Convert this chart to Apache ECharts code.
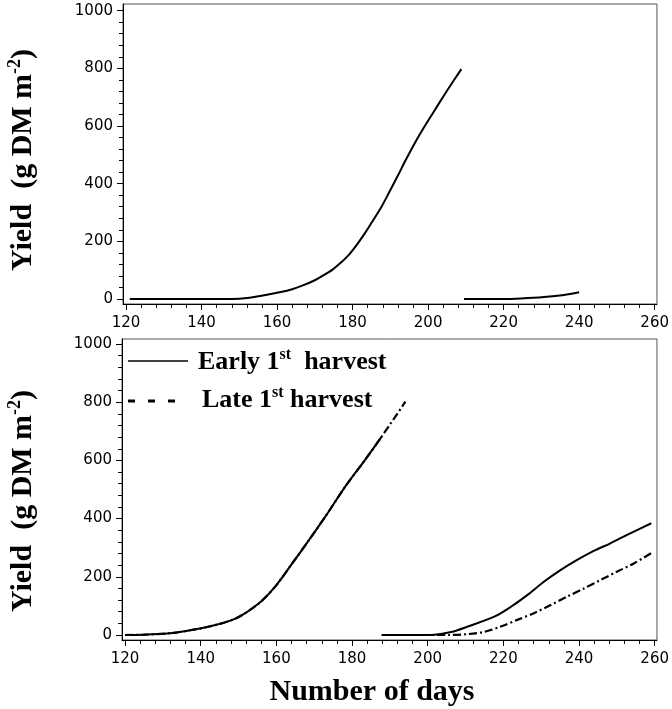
<!DOCTYPE html>
<html>
<head>
<meta charset="utf-8">
<script src="https://cdn.jsdelivr.net/npm/echarts@6/dist/echarts.min.js"></script>
<style>html,body{margin:0;padding:0;background:#fff;}#c{width:672px;height:709px;}</style>
</head>
<body>
<div id="c"></div>
<script>
// ---- tick labels ----
const xTicks = [120, 140, 160, 180, 200, 220, 240, 260];
const yTicks = [0, 200, 400, 600, 800, 1000];

// ---- top panel ----
const topDays1  = [121, 130, 140, 148, 152, 157, 161, 164, 167, 170, 172, 174.6, 177, 179, 181, 183, 185, 187.7, 190, 192, 194, 196.5, 199, 201, 203, 205, 207, 208.8];
const topYield1 = [0, 0, 0, 0, 3, 14, 24, 34, 48, 65, 80, 101, 127, 153, 186, 223, 264, 321, 378, 428, 480, 541, 597, 639, 681, 722, 762, 797];
const topDays2  = [209.5, 215, 220, 224.6, 230.7, 236, 240];
const topYield2 = [0, 0, 0, 2, 7, 14, 23];

// ---- bottom panel: Early 1st harvest ----
const earlyDays1  = [120, 125, 131.8, 136.2, 142.3, 149.3, 155.4, 159.8, 164.2, 168.6, 172.9, 178.2, 183.4, 187.8];
const earlyYield1 = [0, 1, 6, 14, 29, 57, 109, 168, 246, 326, 406, 510, 601, 681];
const earlyDays2  = [187.8, 195, 201.8, 206.2, 210.6, 217.6, 222, 226.3, 230.7, 235.1, 239.5, 243.9, 248.3, 252.7, 259.1];
const earlyYield2 = [0, 0, 1, 10, 29, 63, 97, 137, 183, 223, 258, 289, 315, 344, 384];

// ---- bottom panel: Late 1st harvest ----
const lateDays1  = [120, 125, 131.8, 136.2, 142.3, 149.3, 155.4, 159.8, 164.2, 168.6, 172.9, 178.2, 183.4, 187.8, 190, 192, 194.1];
const lateYield1 = [0, 1, 6, 14, 29, 57, 109, 168, 246, 326, 406, 510, 601, 681, 723, 761, 802];
const lateDays2  = [194, 200, 206, 210.6, 215, 219.3, 223.7, 228.1, 232.5, 236.9, 241.3, 245.7, 250.1, 254.5, 259.3];
const lateYield2 = [0, 0, 0, 3, 11, 29, 52, 75, 103, 132, 160, 189, 218, 246, 283];

const zip = (a, b) => a.map((v, i) => [v, b[i]]);
const minorOf = (from, to, step, majors) => {
  const r = [];
  for (let v = from; v <= to + 1e-9; v += step) if (!majors.includes(v)) r.push(v);
  return r;
};
const xMinor = minorOf(120, 260, 4, xTicks);
const yMinor = minorOf(0, 1000, 40, yTicks);

const X_MIN = 119.2, X_MAX = 260.6;
const labelFont = { fontFamily: 'DejaVu Sans', fontSize: 15, color: '#000', formatter: v => String(Math.round(v)) };

function xAxes(gi) {
  return [
    { gridIndex: gi, type: 'value', position: 'bottom', min: X_MIN, max: X_MAX,
      axisLine: { show: true, onZero: false, lineStyle: { color: '#000', width: 1 } },
      axisTick: { show: true, customValues: xTicks, length: 6, lineStyle: { color: '#000' } },
      axisLabel: Object.assign({ customValues: xTicks, margin: 12 }, labelFont),
      splitLine: { show: false } },
    { gridIndex: gi, type: 'value', position: 'bottom', min: X_MIN, max: X_MAX,
      axisLine: { show: false, onZero: false },
      axisTick: { show: true, customValues: xMinor, length: 4, lineStyle: { color: '#000' } },
      axisLabel: { show: false }, splitLine: { show: false } }
  ];
}
function yAxes(gi, mn, mx) {
  return [
    { gridIndex: gi, type: 'value', position: 'left', min: mn, max: mx,
      axisLine: { show: true, onZero: false, lineStyle: { color: '#000', width: 1 } },
      axisTick: { show: true, customValues: yTicks, length: 6, lineStyle: { color: '#000' } },
      axisLabel: Object.assign({ customValues: yTicks, margin: 10 }, labelFont),
      splitLine: { show: false } },
    { gridIndex: gi, type: 'value', position: 'left', min: mn, max: mx,
      axisLine: { show: false, onZero: false },
      axisTick: { show: true, customValues: yMinor, length: 4, lineStyle: { color: '#000' } },
      axisLabel: { show: false }, splitLine: { show: false } }
  ];
}

const solid = { color: '#000', width: 2, type: 'solid' };
const dashed = { color: '#000', width: 2.2, type: [8, 3, 2, 3] };
function ser(name, gi, days, vals, ls, z) {
  return { name, type: 'line', xAxisIndex: gi * 2, yAxisIndex: gi * 2,
    data: zip(days, vals), showSymbol: false, symbol: 'none',
    smooth: 0.3, lineStyle: ls, z: z || 2, silent: true, animation: false };
}

const titleFont = 'Liberation Serif';
const yTitleRich = {
  a: { fontFamily: titleFont, fontWeight: 'bold', fontSize: 30, lineHeight: 34, fill: '#000' },
  s: { fontFamily: titleFont, fontWeight: 'bold', fontSize: 18, verticalAlign: 'top', lineHeight: 34, fill: '#000' }
};
const legRich = {
  a: { fontFamily: titleFont, fontWeight: 'bold', fontSize: 26, lineHeight: 30, fill: '#000' },
  s: { fontFamily: titleFont, fontWeight: 'bold', fontSize: 16, verticalAlign: 'top', lineHeight: 30, fill: '#000' }
};

const option = {
  animation: false,
  backgroundColor: '#fff',
  grid: [
    { left: 123, top: 4, width: 537, height: 300, show: true, borderColor: '#555', borderWidth: 1, containLabel: false },
    { left: 122, top: 339, width: 539, height: 301, show: true, borderColor: '#555', borderWidth: 1, containLabel: false }
  ],
  xAxis: [...xAxes(0), ...xAxes(1)],
  yAxis: [...yAxes(0, -17.4, 1023), ...yAxes(1, -17.2, 1017.2)],
  series: [
    ser('top1', 0, topDays1, topYield1, solid),
    ser('top2', 0, topDays2, topYield2, solid),
    ser('Late 1st harvest', 1, lateDays1, lateYield1, dashed, 2),
    ser('Late 1st harvest', 1, lateDays2, lateYield2, dashed, 2),
    ser('Early 1st harvest', 1, earlyDays1, earlyYield1, solid, 3),
    ser('Early 1st harvest', 1, earlyDays2, earlyYield2, solid, 3)
  ],
  graphic: [
    { type: 'text', x: 23, y: 160, rotation: Math.PI / 2,
      style: { text: '{a|Yield  (g DM m}{s|-2}{a|)}', rich: yTitleRich, align: 'center', verticalAlign: 'middle' } },
    { type: 'text', x: 23, y: 501, rotation: Math.PI / 2,
      style: { text: '{a|Yield  (g DM m}{s|-2}{a|)}', rich: yTitleRich, align: 'center', verticalAlign: 'middle' } },
    { type: 'text', x: 372, y: 692,
      style: { text: 'Number of days', fontFamily: titleFont, fontWeight: 'bold', fontSize: 30, fill: '#000', align: 'center', verticalAlign: 'middle' } },
    { type: 'line', shape: { x1: 128, y1: 361, x2: 188, y2: 361 }, style: { stroke: '#000', lineWidth: 1.5 } },
    { type: 'text', x: 198, y: 362,
      style: { text: '{a|Early 1}{s|st}{a|  harvest}', rich: legRich, align: 'left', verticalAlign: 'middle' } },
    { type: 'line', shape: { x1: 128, y1: 401, x2: 175, y2: 401 }, style: { stroke: '#000', lineWidth: 3, lineDash: [7, 13] } },
    { type: 'text', x: 202, y: 400,
      style: { text: '{a|Late 1}{s|st}{a| harvest}', rich: legRich, align: 'left', verticalAlign: 'middle' } }
  ]
};

const chart = echarts.init(document.getElementById('c'), null, { renderer: 'canvas' });
chart.setOption(option);
</script>
</body>
</html>
